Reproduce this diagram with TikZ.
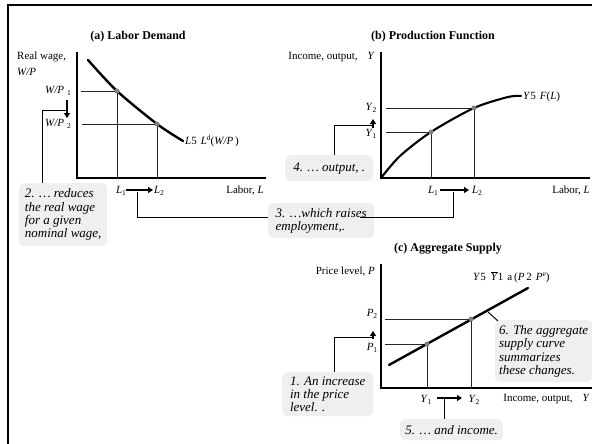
\documentclass[tikz,border=0pt]{standalone}
\usepackage{fontspec}
\setmainfont{Liberation Serif}
\usetikzlibrary{arrows.meta}
\definecolor{boxgray}{HTML}{EFEFEF}
\definecolor{dotgray}{HTML}{808080}
\newcommand{\sbs}[1]{\raisebox{-0.5ex}{\fontsize{7.5}{8}\selectfont #1}}
\newcommand{\sps}[1]{\raisebox{0.8ex}{\fontsize{7.5}{8}\selectfont #1}}
\begin{document}
\begin{tikzpicture}[x=1pt,y=-1pt,
  axis/.style={line width=1.3pt},
  guide/.style={line width=0.9pt, draw=black!85},
  curveline/.style={line width=2.4pt, line cap=round},
  bigarrow/.style={line width=2pt, -{Triangle[length=5pt,width=6pt]}},
  conn/.style={line width=1pt},
  dotpt/.style={circle, fill=dotgray, inner sep=0pt, minimum size=5pt},
  lbl/.style={inner sep=0pt, font=\fontsize{11}{13}\selectfont},
  ttl/.style={inner sep=0pt, font=\fontsize{12}{14}\selectfont\bfseries},
  note/.style={fill=boxgray, rounded corners=5pt, inner sep=0pt, align=left, anchor=north west, font=\fontsize{13}{13.4}\selectfont\itshape},
]
\useasboundingbox (0,0) rectangle (592,444);
% frame
\draw[line width=2pt] (8,444) -- (8,5.5) -- (592,5.5);

% ---------- (a) Labor Demand ----------
\node[ttl] (ta) at (138,37) {(a) Labor Demand};
\coordinate (aO) at (77,178);
\draw[axis] (77,52) -- (aO) -- (266,178);
\node[lbl, anchor=west] (rw) at (17,57) {Real wage,};
\node[lbl, anchor=west] (wp) at (17,72) {\textit{W/P}};
\coordinate (a1) at (117,91);
\coordinate (a2) at (157,124);
\draw[guide] (81,91) -- (a1) -- (117,178);
\draw[guide] (82,124) -- (a2) -- (157,178);
\draw[curveline] plot[smooth] coordinates {(88,60) (a1) (a2) (183,141)};
\node[dotpt] (da1) at (a1) {};
\node[dotpt] (da2) at (a2) {};
\node[lbl, anchor=west] (wp1) at (45,91) {\textit{W/P}\hspace{3pt}\sbs{1}};
\node[lbl, anchor=west] (wp2) at (45,124) {\textit{W/P}\hspace{3pt}\sbs{2}};
\node[lbl, anchor=west] (ld) at (185,141) {\textit{L}5\hspace{4pt}\textit{L}\sps{d}(\textit{W/P}\,)};
\node[lbl] (la1) at (121,191) {\textit{L}\sbs{1}};
\node[lbl] (la2) at (159,191) {\textit{L}\sbs{2}};
\node[lbl, anchor=east] (laba) at (264,191) {Labor,\ \textit{L}};
\coordinate (wA) at (67,100);
\coordinate (wB) at (67,118);
\draw[bigarrow] (wA) -- (wB);
\coordinate (lA) at (126,190);
\coordinate (lB) at (153,190);
\draw[bigarrow] (lA) -- (lB);

% ---------- (b) Production Function ----------
\node[ttl] (tb) at (433,37) {(b) Production Function};
\coordinate (bO) at (381,178);
\draw[axis] (381,52) -- (bO) -- (590,178);
\node[lbl, anchor=east] (ylab) at (375,57) {Income, output,\hspace{10pt}\textit{Y}};
\coordinate (b1) at (431,132);
\coordinate (b2) at (474,108);
\draw[guide] (386,132) -- (b1) -- (431,178);
\draw[guide] (386,108) -- (b2) -- (474,178);
\draw[line width=2.1pt, line cap=round] plot[smooth] coordinates {(bO) (400,156) (b1) (b2) (508,97) (521,96)};
\node[dotpt] (db1) at (b1) {};
\node[dotpt] (db2) at (b2) {};
\node[lbl, anchor=west] (yf) at (523,97) {\textit{Y}5\hspace{4pt}\textit{F}(\textit{L})};
\node[lbl] (yb2) at (371,108) {\textit{Y}\sbs{2}};
\node[lbl] (yb1) at (371,134) {\textit{Y}\sbs{1}};
\node[lbl] (lb1) at (433,191) {\textit{L}\sbs{1}};
\node[lbl] (lb2) at (477,191) {\textit{L}\sbs{2}};
\node[lbl, anchor=east] (labb) at (590,191) {Labor,\ \textit{L}};
\coordinate (yA) at (373,128);
\coordinate (yB) at (373,119);
\draw[bigarrow] (yA) -- (yB);
\coordinate (mA) at (440,190);
\coordinate (mB) at (469,190);
\draw[bigarrow] (mA) -- (mB);

% ---------- (c) Aggregate Supply ----------
\node[ttl] (tc) at (448,249) {(c) Aggregate Supply};
\coordinate (cO) at (381,388);
\draw[axis] (381,264) -- (cO) -- (592,388);
\node[lbl, anchor=east] (plab) at (375,272) {Price level, \textit{P}};
\node[lbl, anchor=west] (eq) at (473,277) {\textit{Y}5\hspace{5pt}$\overline{\mbox{\textit{Y}}}$1\hspace{4pt}a\,(\textit{P}\,2\hspace{4pt}\textit{P}\sps{e})};
\coordinate (c1) at (427,344);
\coordinate (c2) at (471,319);
\draw[guide] (385,344) -- (c1) -- (427,388);
\draw[guide] (385,319) -- (c2) -- (471,388);
\draw[curveline] (389,365) -- (528,288);
\node[dotpt] (dc1) at (c1) {};
\node[dotpt] (dc2) at (c2) {};
\node[lbl] (pc2) at (372,314) {\textit{P}\sbs{2}};
\node[lbl] (pc1) at (372,348) {\textit{P}\sbs{1}};
\node[lbl] (yc1) at (426,400) {\textit{Y}\sbs{1}};
\node[lbl] (yc2) at (474,400) {\textit{Y}\sbs{2}};
\node[lbl, anchor=east] (incc) at (590,399) {Income, output,\hspace{10pt}\textit{Y}};
\coordinate (pA) at (373,339);
\coordinate (pB) at (373,331);
\draw[bigarrow] (pA) -- (pB);
\coordinate (qA) at (437,398);
\coordinate (qB) at (462,398);
\draw[bigarrow] (qA) -- (qB);

% ---------- notes ----------
\node[note, minimum width=88pt, minimum height=63pt] (n2) at (19,183) {2. … reduces\\the real wage\\for a given\\nominal wage,};
\node[note, minimum width=106pt, minimum height=35pt] (n3) at (268,203) {3. …which raises\\employment,.};
\node[note, minimum width=88pt, minimum height=26pt] (n4) at (285,155) {4. … output, .};
\node[note, minimum width=91pt, minimum height=44pt] (n1) at (282,372) {1. An increase\\in the price\\level. .};
\node[note, minimum width=103pt, minimum height=21pt] (n5) at (400,419) {5. … and income.};
\node[note, minimum width=97pt, minimum height=62pt] (n6) at (495,320) {6. The aggregate\\supply curve\\summarizes\\these changes.};

% ---------- connectors ----------
\coordinate (k2a) at (66,110);
\coordinate (k2b) at (42,110);
\draw[conn] (k2a) -- (k2b) -- (k2b |- n2.north);
\coordinate (k3a) at (137,192);
\coordinate (k3b) at (137,217);
\coordinate (k3c) at (360,217);
\coordinate (k3d) at (453,217);
\coordinate (k3e) at (453,192);
\draw[conn] (k3a) -- (k3b) -- (k3b -| n3.west);
\draw[conn] (k3c) -- (k3d) -- (k3e);
\coordinate (k4a) at (372,125);
\coordinate (k4b) at (334,125);
\draw[conn] (k4a) -- (k4b) -- (k4b |- n4.north);
\coordinate (k1a) at (372,337);
\coordinate (k1b) at (334,337);
\draw[conn] (k1a) -- (k1b) -- (k1b |- n1.north);
\coordinate (k5a) at (444,399);
\draw[conn] (k5a) -- (k5a |- n5.north);
\coordinate (k6a) at (488,312);
\coordinate (k6b) at (498,321);
\draw[conn] (k6a) -- (k6b);
\end{tikzpicture}
\end{document}
